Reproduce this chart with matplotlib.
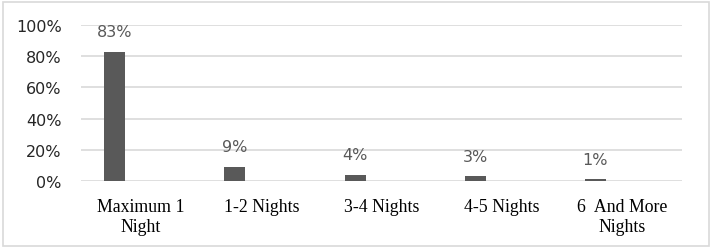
import numpy as np
from matplotlib import pyplot as plt
from matplotlib.patches import Rectangle

categories = ['Maximum 1\nNight', '1-2 Nights', '3-4 Nights', '4-5 Nights', '6  And More\nNights']
values = [83, 9, 4, 3, 1]
labels = ['83%', '9%', '4%', '3%', '1%']
yticks = [0, 20, 40, 60, 80, 100]

fig = plt.figure(figsize=(7.12, 2.53), dpi=100)
ax = fig.add_axes([81 / 712, 1 - 182 / 253, (682 - 81) / 712, 156 / 253])

x = np.arange(len(categories))
# bars sit in the left half of each slot (second series is empty)
ax.bar(x - 0.22, values, width=0.175, color='#595959', zorder=3)
for xi, v, lab in zip(x, values, labels):
    ax.text(xi - 0.22, v + 8, lab, ha='center', va='bottom', fontsize=11.5,
            color='#595959', family='DejaVu Sans')

ax.set_xlim(-0.5, len(categories) - 0.5)
ax.set_ylim(0, 100)
ax.set_yticks(yticks)
ax.set_yticklabels([f'{t}%' for t in yticks], fontsize=11.5, color='#262626')
ax.set_xticks(x)
ax.set_xticklabels(categories, fontsize=12.8, family='Liberation Serif', color='black',
                   linespacing=1.25)
ax.tick_params(length=0, pad=12)
ax.tick_params(axis='y', pad=14)
ax.yaxis.grid(True, color='#d9d9d9', linewidth=1.2, zorder=0)
for s in ax.spines.values():
    s.set_visible(False)

# light frame around the whole chart
fig.patches.append(Rectangle((3 / 712, 6 / 253), 706 / 712, 244 / 253, transform=fig.transFigure,
                             fill=False, edgecolor='#d9d9d9', linewidth=1.2))

fig.savefig('out.png', dpi=100)
